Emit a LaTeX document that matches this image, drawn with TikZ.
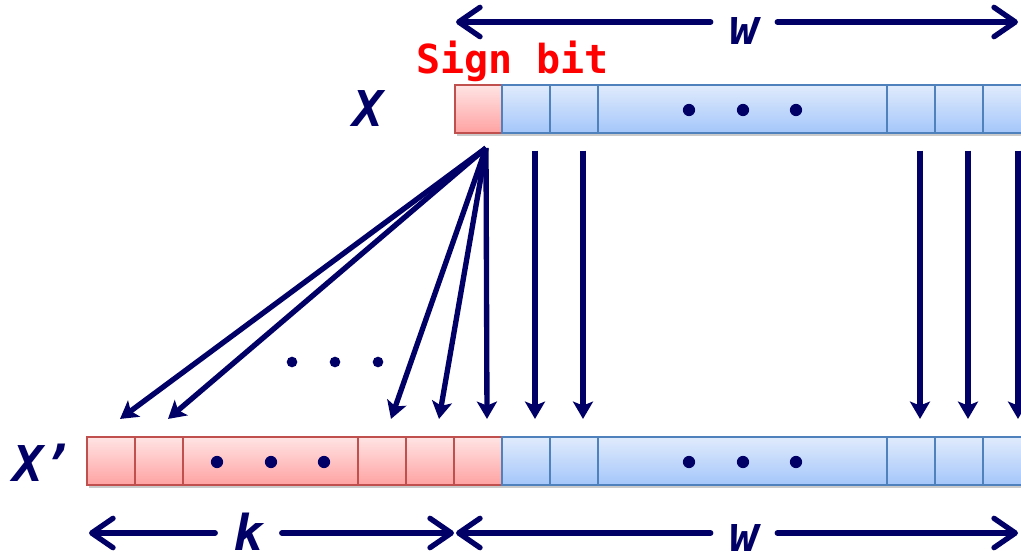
\documentclass[tikz,border=0pt]{standalone}
\usepackage{fontspec}
\newfontfamily\labfont{DejaVu Sans Mono}
\usetikzlibrary{arrows.meta,shadows,calc}
\definecolor{navy}{RGB}{0,0,102}
\definecolor{redtop}{RGB}{255,228,228}
\definecolor{redbot}{RGB}{255,162,162}
\definecolor{redline}{RGB}{192,80,77}
\definecolor{bluetop}{RGB}{224,235,252}
\definecolor{bluebot}{RGB}{164,198,250}
\definecolor{blueline}{RGB}{79,129,189}
\newcommand\bitcell[5]{%
  \pgfmathsetmacro\cellcx{(#3+#4)/2}%
  \pgfmathsetmacro\cellw{(#4-#3)*0.75}%
  \node[#2, minimum width=\cellw pt] (#1) at (\cellcx,#5) {};}
\begin{document}
\begin{tikzpicture}[x=0.75pt,y=-0.75pt,
  cellbase/.style={draw, line width=1.1pt, minimum height=36pt, inner sep=0pt,
    drop shadow={shadow xshift=1.2pt, shadow yshift=-2.5pt, opacity=0.35, fill=black!60}},
  redcell/.style={cellbase, draw=redline, top color=redtop, bottom color=redbot},
  bluecell/.style={cellbase, draw=blueline, top color=bluetop, bottom color=bluebot},
  fan/.style={navy, line width=4pt, -{Stealth[length=13pt,width=15pt,inset=3pt]}},
  dim/.style={navy, line width=4pt, line cap=round,
    -{Straight Barb[length=16pt,width=22pt,line width=4pt,round]}},
  lab/.style={font=\labfont\bfseries\itshape\fontsize{37}{40}\selectfont, text=navy, inner sep=0pt},
  dimlab/.style={lab, fill=white, minimum width=49.5pt},
  signlab/.style={font=\labfont\bfseries\fontsize{30}{34}\selectfont, text=red, inner sep=0pt},
  bigdot/.style={fill=navy}
]
\useasboundingbox (0,0) rectangle (1021,553);
\clip (0,0) rectangle (1021,553);

% top register X
\bitcell{s}{redcell}{455}{502}{109}
\bitcell{t1}{bluecell}{502}{550}{109}
\bitcell{t2}{bluecell}{550}{598}{109}
\bitcell{td}{bluecell}{598}{887}{109}
\bitcell{t3}{bluecell}{887}{935}{109}
\bitcell{t4}{bluecell}{935}{983}{109}
\bitcell{t5}{bluecell}{983}{1035}{109}

% bottom register X'
\bitcell{b1}{redcell}{87}{135}{461}
\bitcell{b2}{redcell}{135}{183}{461}
\bitcell{bd}{redcell}{183}{358}{461}
\bitcell{b3}{redcell}{358}{406}{461}
\bitcell{b4}{redcell}{406}{454}{461}
\bitcell{b5}{redcell}{454}{502}{461}
\bitcell{c1}{bluecell}{502}{550}{461}
\bitcell{c2}{bluecell}{550}{598}{461}
\bitcell{cd}{bluecell}{598}{887}{461}
\bitcell{c3}{bluecell}{887}{935}{461}
\bitcell{c4}{bluecell}{935}{983}{461}
\bitcell{c5}{bluecell}{983}{1035}{461}

% dots inside registers
\foreach \x in {689,743,796} {
  \fill[bigdot] (\x,110) circle[radius=4.6pt];
  \fill[bigdot] (\x,462) circle[radius=4.6pt];
}
\foreach \x in {217,271,324} {
  \fill[bigdot] (\x,462) circle[radius=4.6pt];
}
% dots between fan arrows
\foreach \x in {292,335,378} {
  \fill[bigdot] (\x,362) circle[radius=4pt];
}

% labels
\node[lab] (xl) at (368,109) {X};
\node[lab] (xpl) at (43,463) {X’};
\node[signlab, anchor=base west] (sb) at (416,73) {Sign bit};

% sign extension fan
\coordinate (src) at (486,148);
\foreach \n in {b1,b2,b3,b4,b5} {
  \draw[fan] (src) -- ([xshift=6.75pt,yshift=13pt]\n.north);
}
% straight copies
\draw[fan] ([xshift=6.75pt,yshift=-12.75pt]t1.south) -- ([xshift=6.75pt,yshift=13pt]c1.north);
\draw[fan] ([xshift=6.75pt,yshift=-12.75pt]t2.south) -- ([xshift=6.75pt,yshift=13pt]c2.north);
\draw[fan] ([xshift=6.75pt,yshift=-12.75pt]t3.south) -- ([xshift=6.75pt,yshift=13pt]c3.north);
\draw[fan] ([xshift=6.75pt,yshift=-12.75pt]t4.south) -- ([xshift=6.75pt,yshift=13pt]c4.north);
\draw[fan] ([xshift=6.75pt,yshift=-12.75pt]t5.south) -- ([xshift=6.75pt,yshift=13pt]c5.north);

% dimension arrows
\node[dimlab, text height=6pt, text depth=6pt] (wt) at (744,22) {\raisebox{-17pt}{w}};
\coordinate (tl) at (456,22);
\coordinate (tr) at (1018,22);
\draw[dim] (wt) -- (tl);
\draw[dim] (wt) -- (tr);

\node[dimlab, text height=12pt, text depth=12pt] (kb) at (248.5,533) {\raisebox{-12.75pt}{k}};
\node[dimlab, text height=12pt, text depth=12pt] (wb) at (744,533) {\raisebox{-14pt}{w}};
\coordinate (bl) at (89,533);
\coordinate (bm) at (454,533);
\coordinate (bm2) at (456,533);
\coordinate (br) at (1018,533);
\draw[dim] (kb) -- (bl);
\draw[dim] (kb) -- (bm);
\draw[dim] (wb) -- (bm2);
\draw[dim] (wb) -- (br);
\end{tikzpicture}
\end{document}
